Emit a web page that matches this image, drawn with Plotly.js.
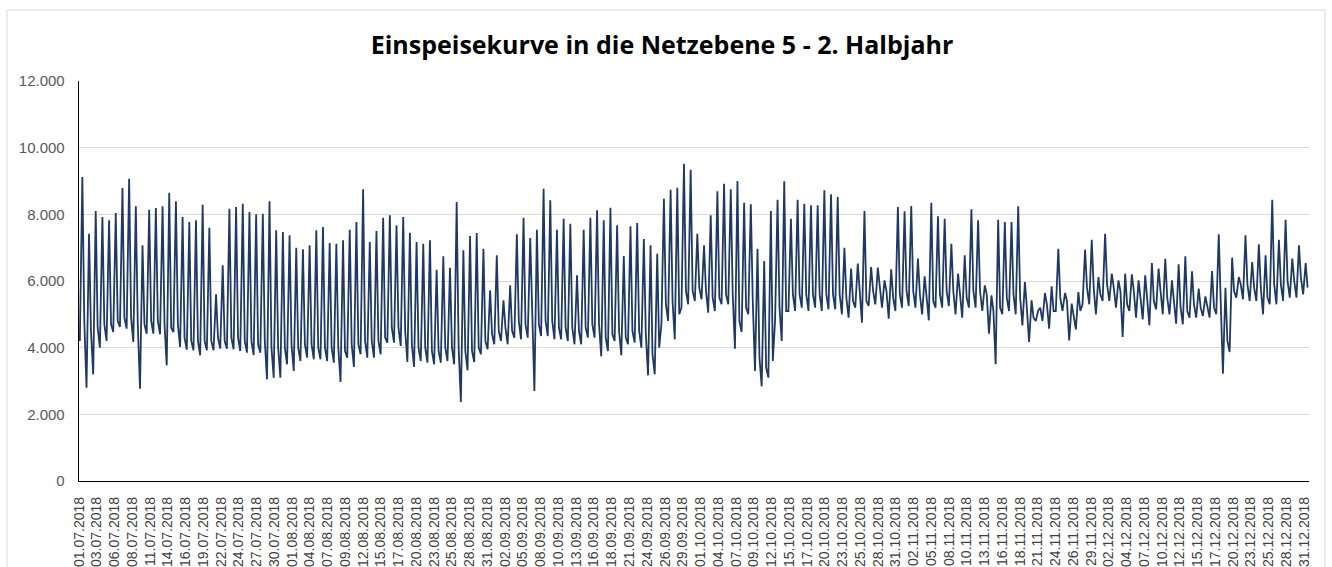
<!DOCTYPE html>
<html>
<head>
<meta charset="utf-8">
<script src="https://cdn.plot.ly/plotly-3.0.1.min.js"></script>
<style>
  html, body { margin: 0; padding: 0; background: #ffffff; }
  #chart { width: 1332px; height: 567px; }
</style>
</head>
<body>
<div id="chart"></div>
<script>
// ---- Data ----
const chartTitle = "Einspeisekurve in die Netzebene 5 - 2. Halbjahr";

// x-axis category labels (one every 255 quarter hours)
const tickLabels = [
  "01.07.2018","03.07.2018","06.07.2018","08.07.2018","11.07.2018","14.07.2018","16.07.2018","19.07.2018",
  "22.07.2018","24.07.2018","27.07.2018","30.07.2018","01.08.2018","04.08.2018","07.08.2018","09.08.2018",
  "12.08.2018","15.08.2018","17.08.2018","20.08.2018","23.08.2018","25.08.2018","28.08.2018","31.08.2018",
  "02.09.2018","05.09.2018","08.09.2018","10.09.2018","13.09.2018","16.09.2018","18.09.2018","21.09.2018",
  "24.09.2018","26.09.2018","29.09.2018","01.10.2018","04.10.2018","07.10.2018","09.10.2018","12.10.2018",
  "15.10.2018","17.10.2018","20.10.2018","23.10.2018","25.10.2018","28.10.2018","31.10.2018","02.11.2018",
  "05.11.2018","08.11.2018","10.11.2018","13.11.2018","16.11.2018","18.11.2018","21.11.2018","24.11.2018",
  "26.11.2018","29.11.2018","02.12.2018","04.12.2018","07.12.2018","10.12.2018","12.12.2018","15.12.2018",
  "17.12.2018","20.12.2018","23.12.2018","25.12.2018","28.12.2018","31.12.2018"
];

// daily minimum (night) values, 01.07.2018 ... 31.12.2018
const dayLow = [
  4200,2800,3200,4000,4200,4470,4620,4570,4170,2770,4420,4420,4400,3470,4470,4020,3940,3920,3770,3920,
  3920,3970,3970,3950,3900,3850,3780,3850,3050,3100,3100,3500,3300,3600,3700,3650,3650,3600,3550,2970,
  3700,3420,3800,3700,3700,3800,4150,4150,4050,3570,3420,3600,3550,3500,3550,3600,3500,2370,3320,3570,
  3800,3950,4100,4200,4100,4300,4250,4300,2700,4350,4350,4250,4250,4200,4100,4100,4300,4300,3740,3900,
  4200,3770,4100,4150,4000,3170,3200,4700,4800,4250,5200,5300,5400,5450,5050,5100,5300,5300,3970,4470,
  5000,3300,2840,3100,4800,4200,5100,5100,5200,5100,5200,5100,5150,5150,5000,4900,5200,4750,5250,5300,
  5200,4870,5100,5200,5250,5200,5000,4820,5200,5200,5250,5000,4900,5200,5200,5100,4420,3500,5000,5100,
  5000,4670,4170,4800,4800,4570,5100,5100,4220,4550,5300,5300,5000,5400,5400,5200,4320,5100,4900,4850,
  4670,5150,5000,5000,4720,4700,4900,4900,4950,4900,5000,3220,3870,5500,5450,5400,5400,5000,5300,5300,
  5400,5500,5500,5600
];

// daily maximum (day) values, 01.07.2018 ... 31.12.2018
const dayHigh = [
  9120,7420,8100,7920,7820,8040,8790,9070,8240,7070,8140,8190,8240,8650,8390,7920,7770,7820,8290,7600,
  5600,6470,8170,8220,8320,8070,8000,8020,8390,7520,7470,7370,7000,6950,7070,7520,7620,7140,7120,7220,
  7540,7770,8750,7170,7500,7900,7970,7670,7920,7450,7170,7120,7220,6340,6740,6400,8370,6920,7350,7440,
  6970,5720,6770,5420,5870,7400,7900,7290,7540,8770,8420,7540,7870,7720,6170,7540,7900,8120,7820,8200,
  7670,6750,7640,7740,7260,7070,6820,8470,8740,8800,9520,9340,7420,7070,7970,8690,8920,8750,9000,8350,
  8300,6970,6600,8100,8440,8990,7870,8440,8320,8270,8270,8720,8600,8520,7000,6370,6520,8100,6420,6400,
  6020,6350,8220,8090,8250,6670,6140,8350,7940,7870,7120,6220,6770,8150,7820,5870,5570,7840,7770,7770,
  8240,5970,5420,5120,5640,5840,6970,5640,5320,5670,6940,7240,6120,7420,6220,6020,6220,6200,6020,6170,
  6540,6370,6670,6020,6500,6740,6290,5770,5540,6300,7400,5800,6700,6120,7370,6570,7100,6770,8440,7240,
  7840,6670,7070,6540
];

// evening level between the daily peaks, 01.07.2018 ... 31.12.2018
const dayBase = [
  4800,4500,4600,4700,4700,4800,4900,4900,4700,4700,4800,4800,4700,4600,4700,4300,4200,4200,4200,4200,
  4300,4200,4300,4300,4200,4200,4100,4200,4000,4000,4000,4100,4000,4100,4100,4000,4000,4000,4000,3900,
  4100,4100,4200,4200,4200,4300,4600,4600,4500,4100,4000,4000,3900,3900,4000,4000,4000,3900,3900,4000,
  4200,4400,4500,4600,4500,4800,4700,4800,4700,4800,4800,4600,4600,4600,4500,4600,4700,4700,4300,4400,
  4500,4300,4500,4500,4400,3800,4000,5300,5400,5000,5700,5700,5800,5700,5500,5500,5600,5600,4800,5200,
  5400,3700,3400,3600,5200,5100,5600,5600,5600,5600,5600,5600,5600,5600,5500,5400,5600,5400,5700,5800,
  5700,5500,5600,5700,5700,5600,5500,5400,5600,5700,5700,5500,5500,5700,5700,5600,5100,5200,5500,5600,
  5500,5200,4900,5200,5300,5100,5500,5400,4900,5100,5800,5800,5600,5900,5800,5700,5300,5700,5500,5500,
  5400,5700,5500,5400,5200,5100,5300,5200,5200,5200,5400,4200,5700,5900,5900,5800,5800,5500,5900,5900,
  6000,6000,6100,5800
];

// ---- Build the series (hours since 01.07.2018 00:00) ----
const lowHour = 3, highHour = 12, baseHour = 19;
const xs = [], ys = [];
for (let d = 0; d < dayLow.length; d++) {
  xs.push(d * 24 + lowHour);  ys.push(dayLow[d]);
  xs.push(d * 24 + highHour); ys.push(dayHigh[d]);
  xs.push(d * 24 + baseHour); ys.push(dayBase[d]);
}
const totalHours = dayLow.length * 24;
const tickStep = 255 * 0.25; // 255 quarter hours between labels
const tickVals = tickLabels.map((_, i) => i * tickStep);

const trace = {
  x: xs, y: ys,
  type: 'scatter', mode: 'lines',
  line: { color: '#203864', width: 1.8 },
  hoverinfo: 'skip'
};

const layout = {
  width: 1332, height: 567,
  margin: { l: 79, r: 23, t: 81, b: 86 },
  paper_bgcolor: '#ffffff', plot_bgcolor: '#ffffff',
  separators: ',.',
  showlegend: false,
  title: {
    text: '<b>' + chartTitle + '</b>',
    font: { family: 'Open Sans, Liberation Sans, sans-serif', size: 25, color: '#000000' },
    x: 0.497, xanchor: 'center', y: 0.92, yanchor: 'middle', xref: 'container', yref: 'container'
  },
  xaxis: {
    range: [0, totalHours],
    tickmode: 'array', tickvals: tickVals, ticktext: tickLabels,
    tickangle: -90,
    tickfont: { family: 'Liberation Sans, Arial, sans-serif', size: 14, color: '#404040' },
    ticks: '', ticklabelstandoff: 9,
    showgrid: false, zeroline: false,
    showline: true, linecolor: '#000000', linewidth: 1.3,
    automargin: false, fixedrange: true
  },
  yaxis: {
    range: [0, 12000], dtick: 2000, tick0: 0,
    tickformat: ',d',
    tickfont: { family: 'Liberation Sans, Arial, sans-serif', size: 15, color: '#595959' },
    ticks: '', ticklabelstandoff: 10,
    showgrid: true, gridcolor: '#d9d9d9', gridwidth: 1,
    zeroline: false,
    showline: true, linecolor: '#000000', linewidth: 1.3,
    automargin: false, fixedrange: true
  },
  shapes: [
    { type: 'rect', xref: 'paper', yref: 'paper',
      x0: -72/1230, x1: 1246/1230, y0: -1, y1: 1 + 71/400,
      line: { color: '#d9d9d9', width: 1 }, fillcolor: 'rgba(0,0,0,0)', layer: 'below' }
  ]
};

Plotly.newPlot('chart', [trace], layout, { displayModeBar: false, staticPlot: true });
</script>
</body>
</html>
